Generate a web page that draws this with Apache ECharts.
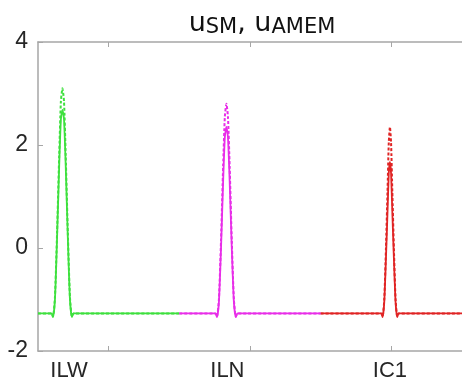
<!DOCTYPE html>
<html>
<head>
<meta charset="utf-8">
<script src="https://cdn.jsdelivr.net/npm/echarts@6.0.0/dist/echarts.min.js"></script>
<style>
  html, body { margin: 0; padding: 0; background: #fff; }
  #chart { width: 462px; height: 388px; }
</style>
</head>
<body>
<div id="chart"></div>
<script>
const categories = ['ILW', 'ILN', 'IC1'];
const labelPos = [0.22, 1.34, 2.49];
const tickPos = [0.5, 1.5, 2.5];

const greenX = [0, 0.095, 0.106, 0.12, 0.135, 0.15, 0.162, 0.173, 0.184, 0.196, 0.211, 0.226, 0.24, 0.252, 1.0];
const greenSM = [-1.27, -1.27, -1.34, -1.0, 0.2, 1.6, 2.5, 2.68, 2.5, 1.6, 0.2, -1.0, -1.34, -1.27, -1.27];
const greenAMEM = [-1.27, -1.27, -1.33, -0.95, 0.3, 1.8, 2.85, 3.1, 2.85, 1.8, 0.3, -0.95, -1.33, -1.27, -1.27];

const magX = [1.0, 1.255, 1.266, 1.28, 1.295, 1.31, 1.322, 1.333, 1.344, 1.356, 1.371, 1.386, 1.40, 1.412, 2.0];
const magSM = [-1.27, -1.27, -1.34, -1.05, 0.0, 1.3, 2.15, 2.35, 2.15, 1.3, 0.0, -1.05, -1.34, -1.27, -1.27];
const magAMEM = [-1.27, -1.27, -1.33, -1.0, 0.15, 1.6, 2.55, 2.8, 2.55, 1.6, 0.15, -1.0, -1.33, -1.27, -1.27];

const redX = [2.0, 2.428, 2.438, 2.45, 2.462, 2.473, 2.482, 2.49, 2.498, 2.507, 2.518, 2.53, 2.542, 2.552, 3.0];
const redSM = [-1.27, -1.27, -1.34, -1.05, -0.2, 0.7, 1.45, 1.67, 1.45, 0.7, -0.2, -1.05, -1.34, -1.27, -1.27];
const redAMEM = [-1.27, -1.27, -1.33, -1.0, 0.0, 1.1, 2.05, 2.35, 2.05, 1.1, 0.0, -1.0, -1.33, -1.27, -1.27];

const GREEN = '#3ee03e';
const MAGENTA = '#e82ee8';
const RED = '#e02424';

const pairs = (xs, ys) => xs.map((x, i) => [x, ys[i]]);

const line = (name, xs, ys, color, dashed) => ({
  name: name,
  type: 'line',
  data: pairs(xs, ys),
  symbol: 'none',
  smooth: 0.2,
  z: dashed ? 3 : 2,
  lineStyle: { color: color, width: dashed ? 2 : 1.8, type: dashed ? [3, 2] : 'solid' }
});

const axisGray = '#a6a6a6';

const chart = echarts.init(document.getElementById('chart'));

chart.setOption({
  animation: false,
  title: {
    text: '{a|u}{b|SM}{a|, u}{b|AMEM}',
    left: 262,
    textAlign: 'center',
    top: 10,
    padding: 0,
    textStyle: {
      rich: {
        a: { fontFamily: 'DejaVu Sans', fontSize: 27, fontWeight: 'normal', color: '#111', verticalAlign: 'top' },
        b: { fontFamily: 'DejaVu Sans', fontSize: 21, fontWeight: 'normal', color: '#111', verticalAlign: 'top', padding: [7, 0, 0, 0] }
      }
    }
  },
  grid: { left: 38, right: 0, top: 42, bottom: 37 },
  xAxis: [
    {
      type: 'value',
      min: 0,
      max: 3,
      axisLine: { show: true, onZero: false, lineStyle: { color: axisGray, width: 1.5 } },
      axisTick: { show: true, inside: true, length: 5, customValues: tickPos, lineStyle: { color: axisGray } },
      axisLabel: {
        customValues: labelPos,
        fontFamily: 'Liberation Sans',
        fontSize: 22,
        color: '#262626',
        margin: 9,
        formatter: v => categories[labelPos.findIndex(p => Math.abs(p - v) < 1e-6)] || ''
      },
      splitLine: { show: false }
    },
    {
      type: 'value',
      position: 'top',
      min: 0,
      max: 3,
      axisLine: { show: true, onZero: false, lineStyle: { color: axisGray, width: 1.5 } },
      axisTick: { show: true, inside: true, length: 5, customValues: tickPos, lineStyle: { color: axisGray } },
      axisLabel: { show: false },
      splitLine: { show: false }
    }
  ],
  yAxis: {
    type: 'value',
    min: -2,
    max: 4,
    interval: 2,
    axisLine: { show: true, onZero: false, lineStyle: { color: axisGray, width: 1.5 } },
    axisTick: { show: true, inside: true, length: 5, lineStyle: { color: axisGray } },
    axisLabel: { fontFamily: 'Liberation Sans', fontSize: 23, color: '#262626', margin: 10 },
    splitLine: { show: false }
  },
  series: [
    line('u_SM ILW', greenX, greenSM, GREEN, false),
    line('u_AMEM ILW', greenX, greenAMEM, GREEN, true),
    line('u_SM ILN', magX, magSM, MAGENTA, false),
    line('u_AMEM ILN', magX, magAMEM, MAGENTA, true),
    line('u_SM IC1', redX, redSM, RED, false),
    line('u_AMEM IC1', redX, redAMEM, RED, true)
  ]
});
</script>
</body>
</html>
